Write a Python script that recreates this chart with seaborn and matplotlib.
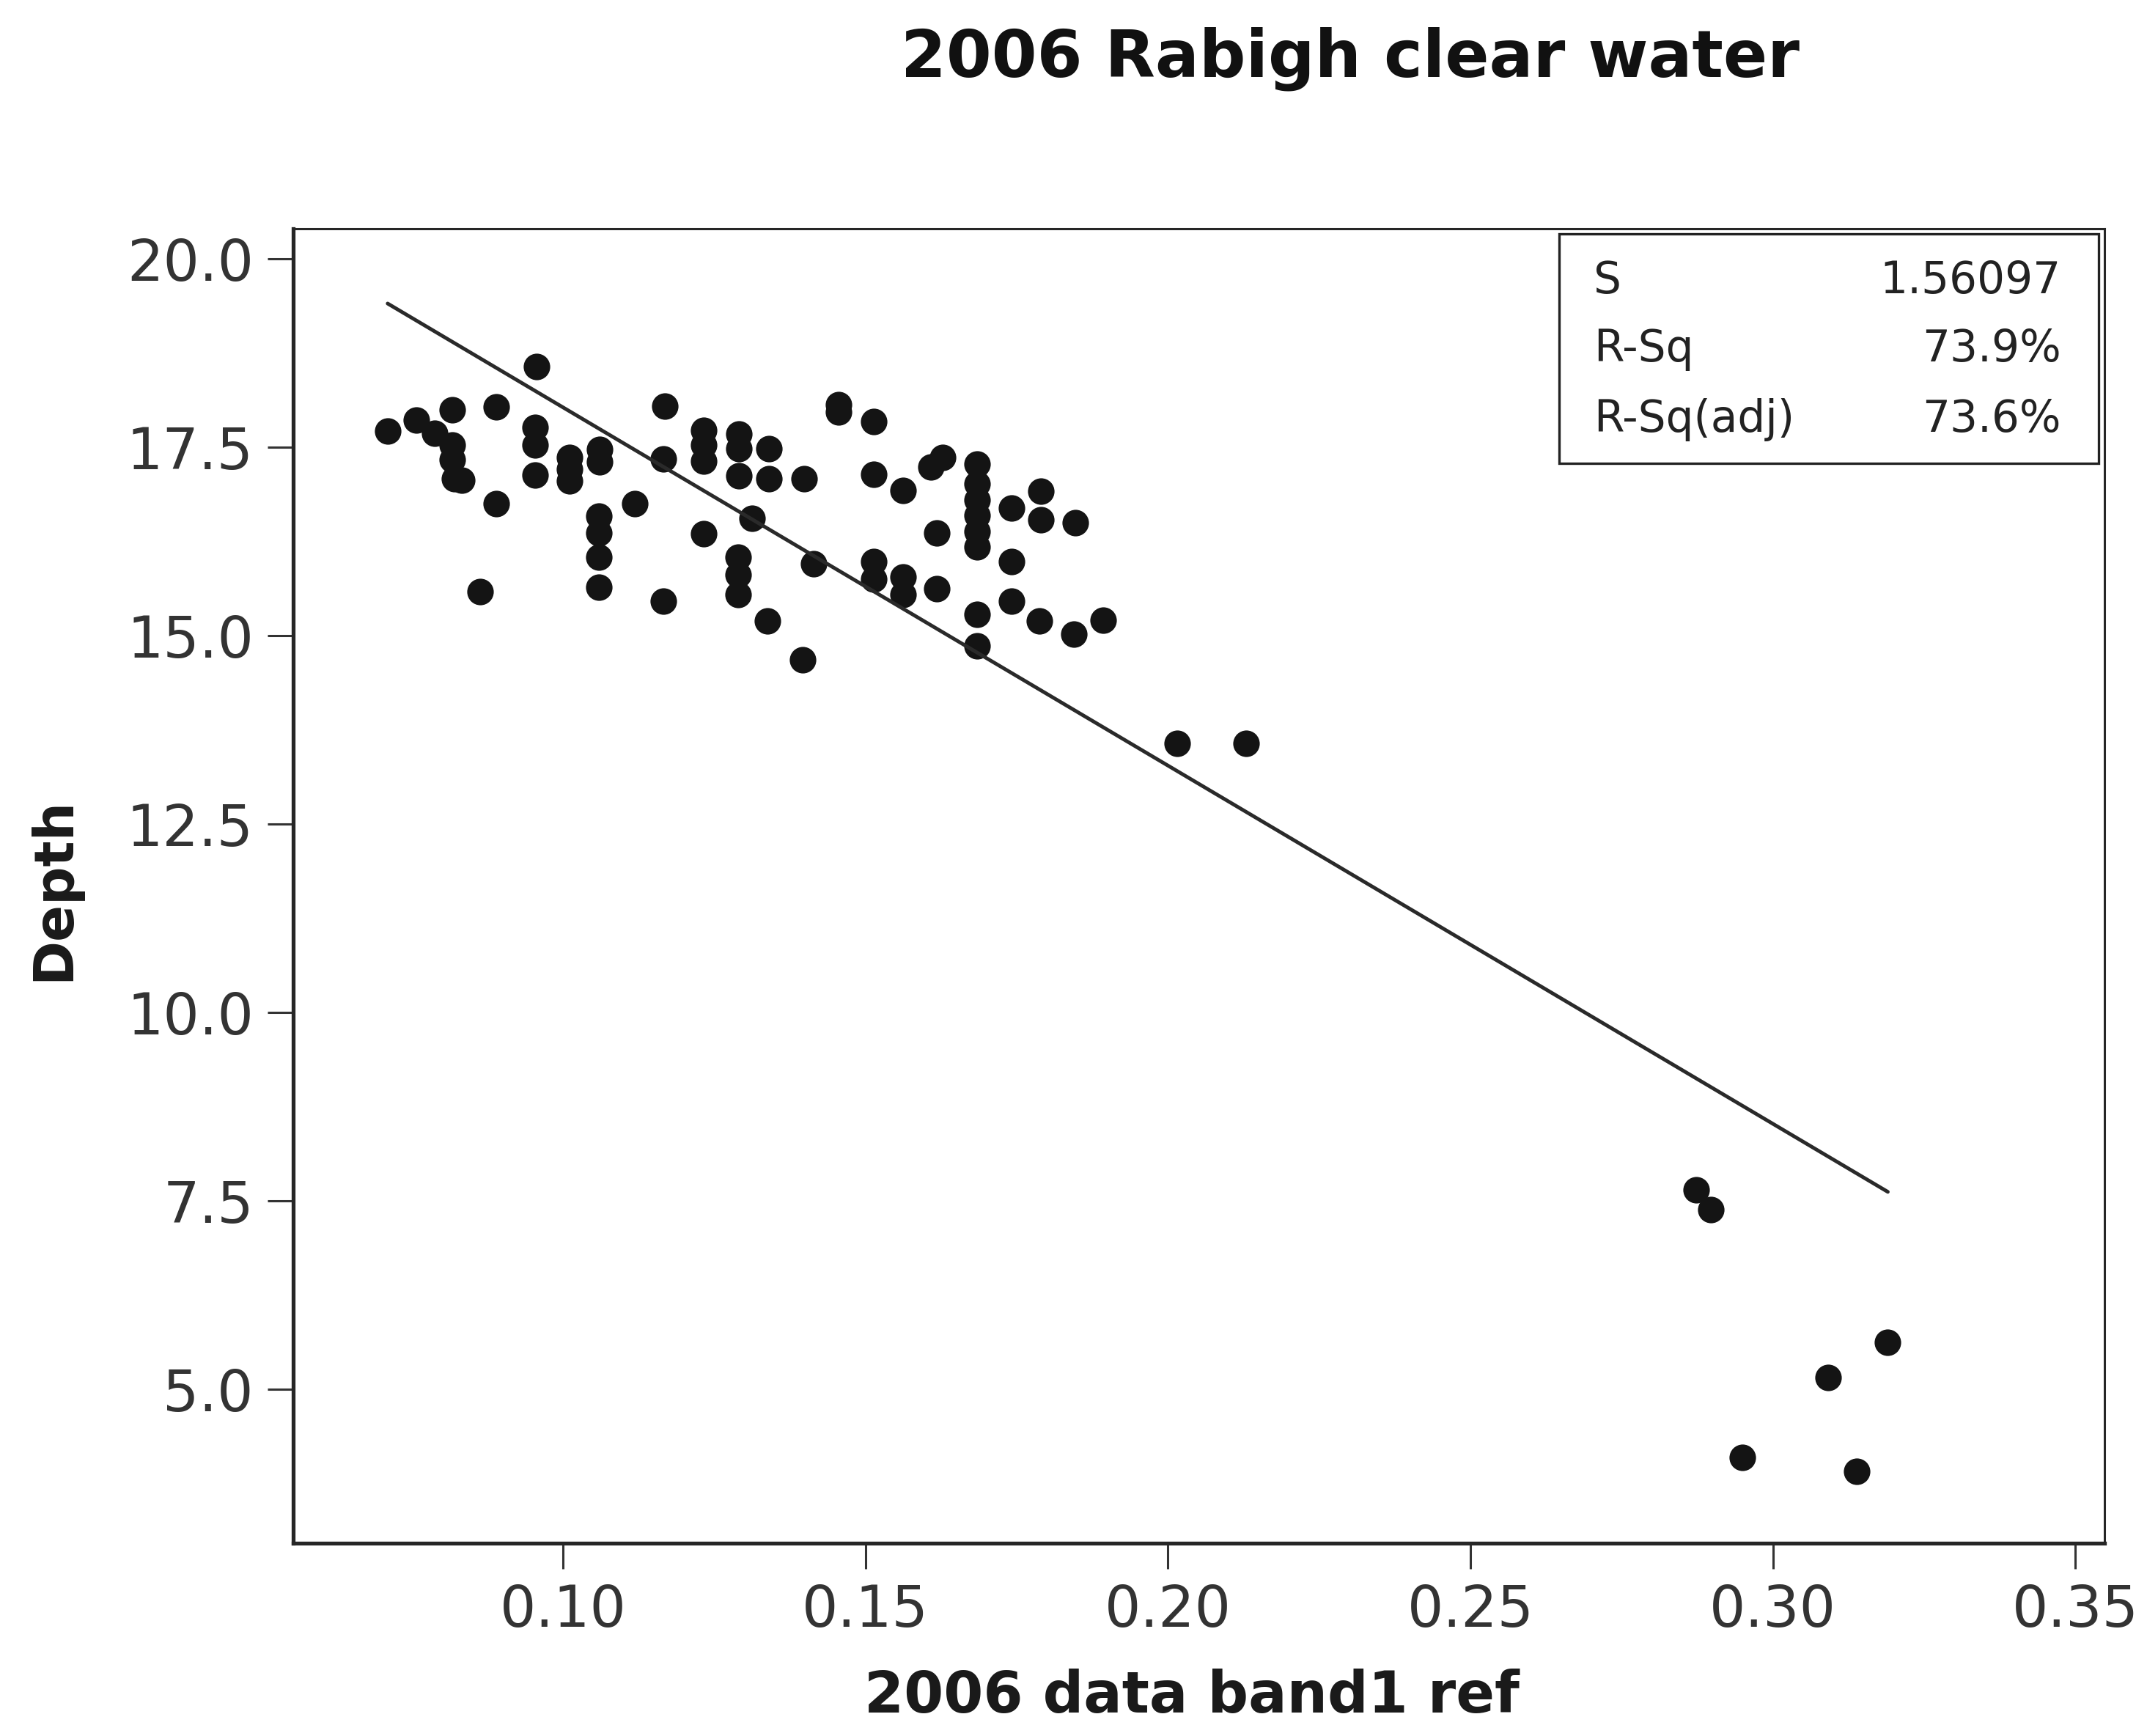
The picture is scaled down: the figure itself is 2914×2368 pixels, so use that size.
import numpy as np
import pandas as pd
import seaborn as sns
import matplotlib.pyplot as plt
from matplotlib.patches import Rectangle

# Band-1 reflectance (2006 scene) and measured depth at each sample site
band1_ref = [
    0.0710, 0.0758, 0.0788, 0.0817, 0.0817, 0.0817, 0.0821, 0.0833,
    0.0889, 0.0889, 0.0863, 0.0956, 0.0954, 0.0954, 0.0954,
    0.1011, 0.1011, 0.1011, 0.1061, 0.1061,
    0.1059, 0.1059, 0.1059, 0.1059, 0.1118,
    0.1168, 0.1166, 0.1166, 0.1233, 0.1233, 0.1233, 0.1233,
    0.1291, 0.1291, 0.1291, 0.1289, 0.1289, 0.1289,
    0.1340, 0.1340, 0.1313, 0.1338, 0.1398, 0.1414, 0.1396,
    0.1456, 0.1456, 0.1513, 0.1513, 0.1562, 0.1608, 0.1627, 0.1618,
    0.1513, 0.1513, 0.1562, 0.1562, 0.1618,
    0.1684, 0.1684, 0.1684, 0.1684, 0.1684, 0.1684, 0.1684, 0.1684,
    0.1742, 0.1790, 0.1790, 0.1847, 0.1741, 0.1741, 0.1788, 0.1845, 0.1893,
    0.2015, 0.2129,
    0.2873, 0.2897, 0.2949, 0.3091, 0.3139, 0.3190,
]
depth = [
    17.72, 17.86, 17.69, 18.00, 17.53, 17.34, 17.08, 17.06,
    18.04, 16.75, 15.59, 18.57, 17.76, 17.53, 17.13,
    17.37, 17.21, 17.05, 17.47, 17.31,
    16.59, 16.36, 16.04, 15.64, 16.75,
    18.05, 17.35, 15.46, 17.73, 17.53, 17.32, 16.35,
    17.68, 17.48, 17.12, 16.04, 15.81, 15.55,
    17.48, 17.08, 16.56, 15.20, 17.08, 15.96, 14.68,
    18.07, 17.97, 17.84, 17.14, 16.93, 17.24, 17.37, 16.36,
    15.98, 15.75, 15.78, 15.55, 15.62,
    17.28, 17.02, 16.80, 16.60, 16.38, 16.18, 15.28, 14.87,
    16.69, 16.92, 16.54, 16.50, 15.98, 15.46, 15.20, 15.02, 15.21,
    13.57, 13.57,
    7.65, 7.39, 4.10, 5.16, 3.91, 5.62,
]

x_ticks = [0.10, 0.15, 0.20, 0.25, 0.30, 0.35]
y_ticks = [5.0, 7.5, 10.0, 12.5, 15.0, 17.5, 20.0]

stat_names = ["S", "R-Sq", "R-Sq(adj)"]
stat_values = ["1.56097", "73.9%", "73.6%"]

title = "2006 Rabigh clear water"
x_label = "2006 data band1 ref"
y_label = "Depth"

sns.set_theme(style="white")
plt.rcParams["font.family"] = ["DejaVu Sans"]

df = pd.DataFrame({"band1": band1_ref, "depth": depth})

fig = plt.figure(figsize=(29.14, 23.68), dpi=100)
ax = fig.add_axes([0.1373, 0.1111, 0.8479, 0.7571])

sns.regplot(
    data=df, x="band1", y="depth", ax=ax, ci=None, color="#141414",
    scatter_kws=dict(s=680, linewidths=0, alpha=1),
    line_kws=dict(color="#2a2a2a", lw=3.6),
)

ax.set_xlim(0.0554, 0.3548)
ax.set_ylim(2.96, 20.40)
ax.set_xticks(x_ticks)
ax.set_xticklabels([f"{v:.2f}" for v in x_ticks])
ax.set_yticks(y_ticks)
ax.set_yticklabels([f"{v:.1f}" for v in y_ticks])

ax.tick_params(axis="both", which="major", direction="out", length=25, width=2.2,
               color="#333333", pad=14, labelsize=56, labelcolor="#333333",
               bottom=True, left=True, top=False, right=False)

for side in ["left", "bottom"]:
    ax.spines[side].set_linewidth(3.8)
    ax.spines[side].set_color("#262626")
for side in ["top", "right"]:
    ax.spines[side].set_linewidth(2.2)
    ax.spines[side].set_color("#262626")

ax.set_xlabel(x_label, fontsize=56, fontweight="bold", color="#1a1a1a")
ax.set_ylabel(y_label, fontsize=53, fontweight="bold", color="#1a1a1a")
ax.xaxis.set_label_coords(0.496, -0.1166)
ax.xaxis.label.set_va("center")
ax.yaxis.set_label_coords(-0.132, 0.498)
ax.yaxis.label.set_va("center")
ax.yaxis.label.set_ha("center")

fig.text(0.632, 0.966, title, fontsize=64, fontweight="bold",
         color="#111111", ha="center", va="center")

# Regression summary box in the upper-right corner
ax.add_patch(Rectangle((0.699, 0.8215), 0.298, 0.1745, transform=ax.transAxes,
                       fill=True, facecolor="white", edgecolor="#222222",
                       lw=2.4, zorder=5))
row_y = [0.960, 0.9085, 0.855]
for name, val, yy in zip(stat_names, stat_values, row_y):
    ax.text(0.718, yy, name, transform=ax.transAxes, fontsize=43,
            color="#222222", ha="left", va="center", zorder=6)
    ax.text(0.976, yy, val, transform=ax.transAxes, fontsize=43,
            color="#222222", ha="right", va="center", zorder=6)

fig.savefig("out.png", dpi=100, facecolor="white")
